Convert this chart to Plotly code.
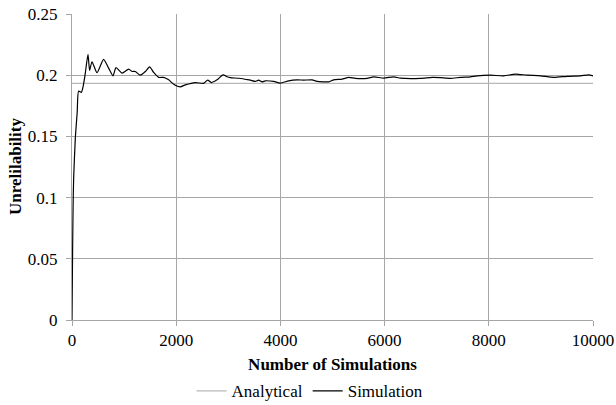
import plotly.graph_objects as go

sim_x = [0, 10, 20, 31, 63, 100, 127, 179, 210, 250, 307, 338, 384, 480, 607, 700, 787, 845, 960,
         1087, 1152, 1215, 1311, 1407, 1490, 1567, 1663, 1759, 1855, 1951, 2079, 2175, 2367, 2527,
         2604, 2675, 2784, 2899, 2976, 3039, 3200, 3350, 3423, 3519, 3583, 3648, 3711, 3871, 3999,
         4159, 4320, 4447, 4608, 4704, 4927, 5023, 5184, 5311, 5439, 5664, 5791, 5983, 6175, 6303,
         6687, 6912, 7071, 7263, 7455, 7647, 7776, 8031, 8287, 8511, 8736, 8991, 9247, 9504, 9759,
         9919, 10000]
sim_y = [0.0, 0.05, 0.09, 0.115, 0.148, 0.170, 0.187, 0.186, 0.190, 0.200, 0.217, 0.204, 0.211, 0.202,
         0.213, 0.206, 0.1995, 0.2062, 0.2017, 0.205, 0.2031, 0.203, 0.200, 0.203, 0.2068, 0.2023,
         0.1982, 0.1982, 0.1962, 0.1927, 0.1905, 0.1921, 0.194, 0.1933, 0.196, 0.194, 0.1962, 0.2003,
         0.1987, 0.198, 0.1975, 0.1965, 0.196, 0.1949, 0.196, 0.1946, 0.1954, 0.1949, 0.1935, 0.1954,
         0.1962, 0.196, 0.1962, 0.1949, 0.1946, 0.1962, 0.1968, 0.1982, 0.1974, 0.1974, 0.1987, 0.1976,
         0.1987, 0.1976, 0.1974, 0.1982, 0.198, 0.1974, 0.1982, 0.1987, 0.1995, 0.2, 0.1995, 0.2009,
         0.2, 0.1995, 0.1982, 0.1991, 0.1995, 0.2003, 0.1995]
analytical_x = [0, 10000]
analytical_y = [0.1933, 0.1933]

x_ticks = [0, 2000, 4000, 6000, 8000, 10000]
y_ticks = [0, 0.05, 0.1, 0.15, 0.2, 0.25]
y_tick_text = ["0", "0.05", "0.1", "0.15", "0.2", "0.25"]
y_title = "Unrelilability"

font = "'Liberation Serif', 'Times New Roman', 'DejaVu Serif', serif"
tfont = dict(family=font, size=17, color="#000000")

fig = go.Figure()
fig.add_trace(go.Scatter(x=analytical_x, y=analytical_y, mode="lines", name="Analytical",
                         line=dict(color="#b8b8b8", width=1.3)))
fig.add_trace(go.Scatter(x=sim_x, y=sim_y, mode="lines", name="Simulation",
                         line=dict(color="#000000", width=1.2, shape="spline", smoothing=0.6)))

fig.update_layout(
    width=616, height=405,
    margin=dict(l=72, r=23, t=14, b=85, autoexpand=False),
    paper_bgcolor="white", plot_bgcolor="white",
    font=tfont,
    showlegend=True,
    legend=dict(orientation="h", x=0.457, xanchor="center", y=-0.174, yanchor="top",
                font=tfont, itemwidth=30, traceorder="normal"),
    xaxis=dict(range=[0, 10000], tickvals=x_ticks, ticktext=[str(v) for v in x_ticks],
               tickfont=tfont, automargin=False,
               showgrid=True, gridcolor="#a6a6a6", gridwidth=1,
               showline=True, linecolor="#a6a6a6", linewidth=1,
               ticks="outside", ticklen=5, tickcolor="#a6a6a6", zeroline=False,
               title=dict(text="<b>Number of Simulations</b>", standoff=8,
                          font=tfont)),
    yaxis=dict(range=[0, 0.25], tickvals=y_ticks, ticktext=y_tick_text,
               tickfont=tfont, automargin=False, ticklabelstandoff=5,
               showgrid=True, gridcolor="#a6a6a6", gridwidth=1,
               showline=True, linecolor="#a6a6a6", linewidth=1,
               ticks="outside", ticklen=5, tickcolor="#a6a6a6", zeroline=False),
    annotations=[dict(text="<b>" + y_title + "</b>", xref="paper", yref="paper",
                      x=0, y=0.5, xanchor="center", yanchor="middle", xshift=-57,
                      textangle=-90, showarrow=False, font=tfont)],
)

fig.write_html("out.html", config={"displayModeBar": False},
               post_script="document.body.style.margin='0';document.body.style.overflow='hidden';")
